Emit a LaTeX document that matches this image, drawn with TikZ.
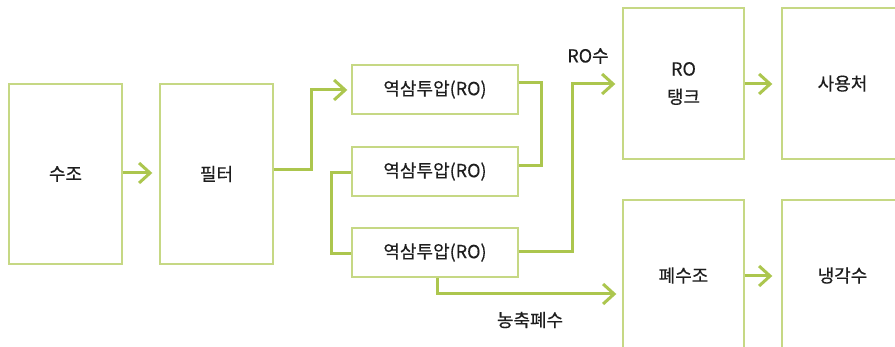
\documentclass[tikz,border=0pt]{standalone}
\usepackage{fontspec}
\newfontfamily\kofont{Noto Sans CJK KR}[FakeBold=0.35]
\usetikzlibrary{arrows.meta}
\definecolor{arrowgreen}{RGB}{172,198,78}
\definecolor{boxgreen}{RGB}{198,216,132}
\definecolor{txt}{RGB}{30,30,30}
\tikzset{
  blk/.style={draw=boxgreen, line width=1.4pt, fill=white, inner sep=0pt, text=txt, font=\kofont\fontsize{18}{22}\selectfont, align=center},
  flow/.style={draw=arrowgreen, line width=3pt, line join=miter},
  flowarr/.style={flow, -{Straight Barb[length=11pt,width=20pt,line width=3pt]}},
  lbl/.style={text=txt, font=\kofont\fontsize{18}{22}\selectfont, inner sep=0pt}
}
\begin{document}
\begin{tikzpicture}[x=1pt,y=-1pt]
\clip (0,0) rectangle (895,347);
\fill[white] (0,0) rectangle (895,347);
% boxes
\node[blk, minimum width=113pt, minimum height=180pt] (suzo) at (65.5,174) {수조};
\node[blk, minimum width=113pt, minimum height=180pt] (filter) at (216.5,174) {필터};
\node[blk, minimum width=166pt, minimum height=49pt] (ro1) at (435,89.5) {역삼투압(RO)};
\node[blk, minimum width=166pt, minimum height=49pt] (ro2) at (435,171.5) {역삼투압(RO)};
\node[blk, minimum width=166pt, minimum height=49pt] (ro3) at (435,252.5) {역삼투압(RO)};
\node[blk, minimum width=121pt, minimum height=151pt] (tank) at (683.5,83.5) {RO\\[6pt]탱크};
\node[blk, minimum width=121pt, minimum height=151pt] (use) at (842.5,83.5) {사용처};
\node[blk, minimum width=121pt, minimum height=151pt] (waste) at (683.5,275.5) {폐수조};
\node[blk, minimum width=121pt, minimum height=151pt] (cool) at (842.5,275.5) {냉각수};
% labels
\node[lbl] (rolbl) at (588,56) {RO수};
\node[lbl] (conclbl) at (530,320) {농축폐수};
% connector end points
\coordinate (fe) at ([yshift=4pt]filter.east);
\coordinate (r1w) at ([yshift=-0.5pt]ro1.west);
\coordinate (r1e) at ([yshift=6.5pt]ro1.east);
\coordinate (r2e) at ([yshift=5.5pt]ro2.east);
\coordinate (r2w) at ([yshift=-1.5pt]ro2.west);
\coordinate (r3w) at ([yshift=-1.5pt]ro3.west);
\coordinate (r3e) at ([yshift=0.5pt]ro3.east);
\coordinate (tw) at ([yshift=-0.5pt]tank.west);
\coordinate (r3s) at ([xshift=2pt]ro3.south);
\coordinate (c1) at (311,0);
\coordinate (c2) at (541,0);
\coordinate (c3) at (331,0);
\coordinate (c4) at (572,0);
\coordinate (c5) at (0,294);
% connectors
\draw[flowarr, shorten >=7pt] ([yshift=1pt]suzo.east) -- ([yshift=1pt]filter.west);
\draw[flowarr, shorten >=4pt] (fe) -- (fe -| c1) -- (c1 |- r1w) -- (r1w);
\draw[flow] (r1e) -- (r1e -| c2) -- (c2 |- r2e) -- (r2e);
\draw[flow] (r2w) -- (r2w -| c3) -- (c3 |- r3w) -- (r3w);
\draw[flowarr, shorten >=7pt] (r3e) -- (r3e -| c4) -- (c4 |- tw) -- (tw);
\draw[flowarr, shorten >=9pt] ([yshift=-0.5pt]tank.east) -- ([yshift=-0.5pt]use.west);
\draw[flowarr, shorten >=9pt] ([yshift=-0.5pt]waste.east) -- ([yshift=-0.5pt]cool.west);
\draw[flowarr, shorten >=6pt] (r3s) -- (r3s |- c5) -- (c5 -| waste.west);
\end{tikzpicture}
\end{document}
